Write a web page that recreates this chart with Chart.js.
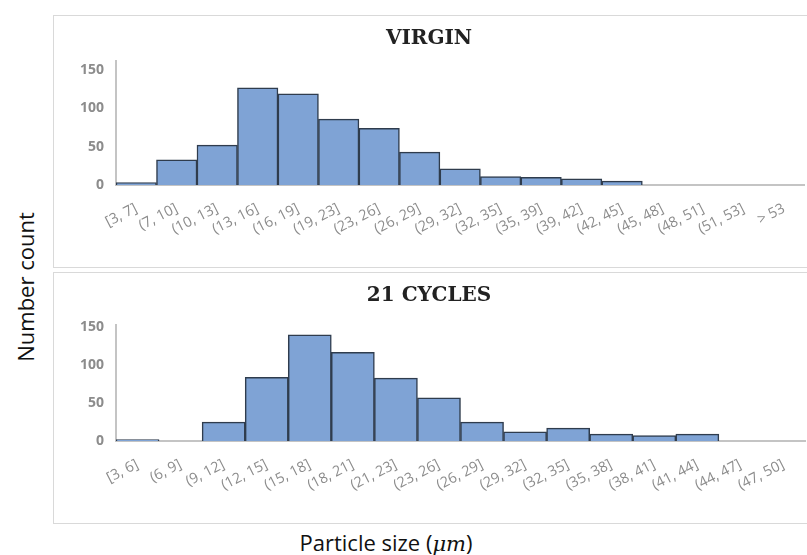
<!DOCTYPE html>
<html lang="en">
<head>
  <meta charset="UTF-8">
  <title>Particle size distribution</title>
  <script src="https://cdn.jsdelivr.net/npm/chart.js"></script>
  <style>
    body {
      margin: 0;
      width: 807px;
      height: 555px;
      background: #ffffff;
      position: relative;
      overflow: hidden;
      font-family: 'Open Sans', 'Liberation Sans', sans-serif;
    }

    .painel {
      position: absolute;
      left: 53px;
      width: 800px;
      border: 1px solid #d9d9d9;
      box-sizing: border-box;
    }

    #painelTopo { top: 15px; height: 253px; }
    #painelBaixo { top: 272px; height: 252px; }

    canvas { position: absolute; left: 53px; }
    #graficoVirgem { top: 15px; }
    #graficoCiclos { top: 272px; }

    .eixoY {
      position: absolute;
      left: 25px;
      top: 287px;
      transform: translate(-50%, -50%) rotate(-90deg);
      font-size: 22px;
      color: #111;
      white-space: nowrap;
    }

    .eixoX {
      position: absolute;
      left: 386px;
      top: 542px;
      transform: translate(-50%, -50%);
      font-size: 22px;
      color: #111;
      white-space: nowrap;
    }

    .eixoX i {
      font-family: 'DejaVu Serif', serif;
      font-size: 21px;
    }
  </style>
</head>
<body>

  <div class="painel" id="painelTopo"></div>
  <div class="painel" id="painelBaixo"></div>

  <canvas id="graficoVirgem" width="754" height="252"></canvas>
  <canvas id="graficoCiclos" width="754" height="251"></canvas>

  <div class="eixoY">Number count</div>
  <div class="eixoX">Particle size (<i>μm</i>)</div>

  <script>
    // faixas de tamanho e contagens
    const virginBins = ['[3, 7]', '(7, 10]', '(10, 13]', '(13, 16]', '(16, 19]', '(19, 23]',
      '(23, 26]', '(26, 29]', '(29, 32]', '(32, 35]', '(35, 39]', '(39, 42]', '(42, 45]',
      '(45, 48]', '(48, 51]', '(51, 53]', '> 53'];
    const virginCounts = [3, 33, 52, 127, 119, 86, 74, 43, 21, 11, 10, 8, 5, 0, 0, 0, 0];

    const cycledBins = ['[3, 6]', '(6, 9]', '(9, 12]', '(12, 15]', '(15, 18]', '(18, 21]',
      '(21, 23]', '(23, 26]', '(26, 29]', '(29, 32]', '(32, 35]', '(35, 38]', '(38, 41]',
      '(41, 44]', '(44, 47]', '(47, 50]'];
    const cycledCounts = [2, 0, 25, 84, 140, 117, 83, 57, 25, 12, 17, 9, 7, 9, 0, 0];

    const yTicks = [0, 50, 100, 150];

    const corBarra = '#7fa3d5';
    const corBorda = '#2f3c4d';
    const corEixo = '#c4c4c4';
    const corTexto = '#8c8c8c';

    function histograma(id, titulo, rotulos, valores, maxY, padTitulo) {
      const ctx = document.getElementById(id).getContext('2d');
      return new Chart(ctx, {
        type: 'bar',
        data: {
          labels: rotulos,
          datasets: [{
            data: valores,
            backgroundColor: corBarra,
            borderColor: corBorda,
            borderWidth: 1.5,
            categoryPercentage: 1,
            barPercentage: 1
          }]
        },
        options: {
          responsive: false,
          animation: false,
          layout: { padding: { left: 0, right: 2, top: 0, bottom: 0 } },
          plugins: {
            legend: { display: false },
            tooltip: { enabled: false },
            title: {
              display: true,
              text: titulo,
              color: '#222',
              font: { family: "'DejaVu Serif', serif", size: 20, weight: 'bold' },
              padding: padTitulo
            }
          },
          scales: {
            x: {
              grid: { display: false, drawTicks: false },
              border: { display: true, color: corEixo, width: 2 },
              ticks: {
                color: corTexto,
                font: { family: "'Open Sans', sans-serif", size: 14.5 },
                minRotation: 27,
                maxRotation: 27,
                padding: 15,
                autoSkip: false
              },
              afterFit: (s) => { s.height = 82; }
            },
            y: {
              min: 0,
              max: maxY,
              grid: { display: false, drawTicks: false },
              border: { display: true, color: corEixo, width: 2 },
              ticks: {
                color: corTexto,
                font: { family: "'Open Sans', sans-serif", size: 14, weight: 'bold' },
                padding: 12
              },
              afterBuildTicks: (s) => {
                s.ticks = yTicks.map(v => ({ value: v }));
              },
              afterFit: (s) => { s.width = 63; }
            }
          }
        }
      });
    }

    histograma('graficoVirgem', 'VIRGIN', virginBins, virginCounts, 162, { top: 12, bottom: 10 });
    histograma('graficoCiclos', '21 CYCLES', cycledBins, cycledCounts, 153, { top: 12, bottom: 17 });
  </script>

</body>
</html>
